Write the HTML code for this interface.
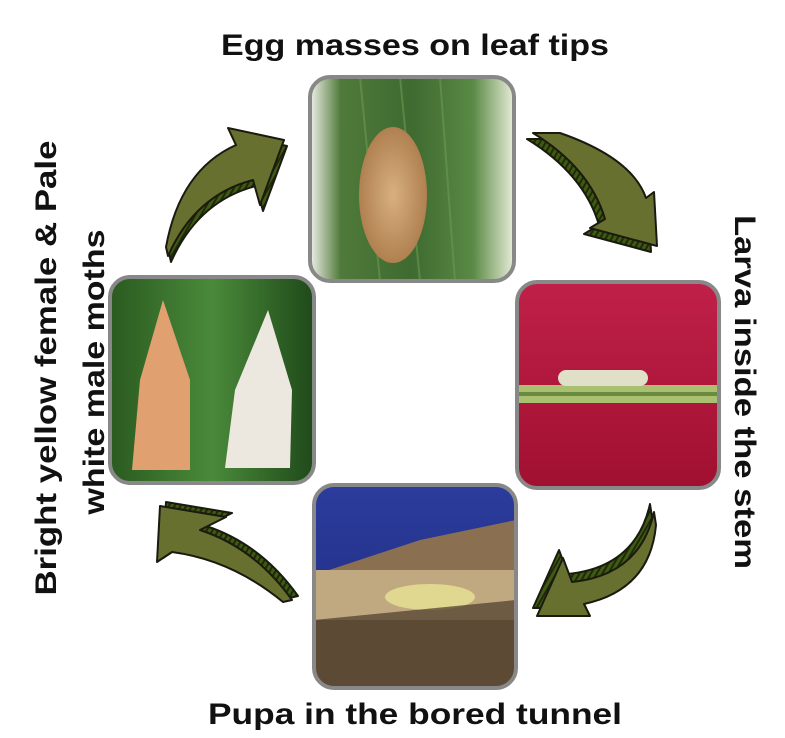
<!DOCTYPE html>
<html><head><style>
html,body{margin:0;padding:0;background:#fff;}
svg{display:block;}
text{font-family:"Liberation Sans",sans-serif;font-size:30px;fill:#111;font-weight:bold;}
</style></head><body>
<svg width="785" height="738" viewBox="0 0 785 738" xmlns="http://www.w3.org/2000/svg">
<defs>
<pattern id="hatch" width="5" height="5" patternUnits="userSpaceOnUse" patternTransform="rotate(30)">
<rect width="5" height="5" fill="#3f5a12"/><rect width="2" height="5" fill="#1e2a08"/>
</pattern>
<clipPath id="c1"><rect x="310" y="77" width="204" height="204" rx="20"/></clipPath>
<clipPath id="c2"><rect x="517" y="282" width="202" height="206" rx="20"/></clipPath>
<clipPath id="c3"><rect x="314" y="485" width="202" height="203" rx="20"/></clipPath>
<clipPath id="c4"><rect x="110" y="277" width="204" height="206" rx="20"/></clipPath>
<linearGradient id="leaf" x1="0" x2="1"><stop offset="0" stop-color="#f0f0e8"/><stop offset="0.15" stop-color="#4f7a3a"/><stop offset="0.5" stop-color="#3f6a30"/><stop offset="0.8" stop-color="#5a8a45"/><stop offset="1" stop-color="#e8ecd8"/></linearGradient>
<radialGradient id="egg"><stop offset="0" stop-color="#d8b080"/><stop offset="1" stop-color="#b08050"/></radialGradient>
<linearGradient id="red" x1="0" y1="0" x2="0" y2="1"><stop offset="0" stop-color="#c02048"/><stop offset="1" stop-color="#a01030"/></linearGradient>
<linearGradient id="blue" x1="0" y1="0" x2="0" y2="1"><stop offset="0" stop-color="#2c3c9c"/><stop offset="1" stop-color="#1c2a7c"/></linearGradient>
<linearGradient id="grass" x1="0" x2="1"><stop offset="0" stop-color="#2a5a20"/><stop offset="0.5" stop-color="#4a8a3a"/><stop offset="1" stop-color="#1f4a1a"/></linearGradient>
</defs>

<g clip-path="url(#c1)">
<rect x="310" y="77" width="204" height="204" fill="url(#leaf)"/>
<g stroke="#6a9a55" stroke-width="2" opacity="0.6"><line x1="360" y1="77" x2="380" y2="281"/><line x1="400" y1="77" x2="420" y2="281"/><line x1="440" y1="77" x2="455" y2="281"/></g>
<ellipse cx="393" cy="195" rx="34" ry="68" fill="url(#egg)"/>
</g>
<rect x="310" y="77" width="204" height="204" rx="20" fill="none" stroke="#888" stroke-width="4"/>

<g clip-path="url(#c2)">
<rect x="517" y="282" width="202" height="206" fill="url(#red)"/>
<rect x="517" y="385" width="202" height="18" fill="#a8c070"/>
<rect x="517" y="392" width="202" height="4" fill="#6a8a40"/>
<rect x="558" y="370" width="90" height="16" rx="8" fill="#e0e0c8"/>
</g>
<rect x="517" y="282" width="202" height="206" rx="20" fill="none" stroke="#888" stroke-width="4"/>

<g clip-path="url(#c3)">
<rect x="314" y="485" width="202" height="203" fill="url(#blue)"/>
<polygon points="314,575 420,540 516,520 516,688 314,688" fill="#8a7050"/>
<rect x="314" y="570" width="202" height="50" fill="#c0a880"/>
<ellipse cx="430" cy="597" rx="45" ry="13" fill="#e0d890"/>
<polygon points="314,620 516,600 516,688 314,688" fill="#4a3a2a" opacity="0.7"/>
</g>
<rect x="314" y="485" width="202" height="203" rx="20" fill="none" stroke="#888" stroke-width="4"/>

<g clip-path="url(#c4)">
<rect x="110" y="277" width="204" height="206" fill="url(#grass)"/>
<polygon points="163,300 140,380 132,470 190,470 190,380" fill="#e0a070"/>
<polygon points="268,310 235,390 225,468 290,468 292,390" fill="#ece8e0"/>
</g>
<rect x="110" y="277" width="204" height="206" rx="20" fill="none" stroke="#888" stroke-width="4"/>

<!-- arrows -->
<g stroke="#1a1a10" stroke-width="2" stroke-linejoin="round">
<!-- top-left -->
<path transform="translate(3,6)" d="M166,247 Q180,170 236,145 L228,128 L284,140 L260,205 L253,180 Q195,195 168,256 Z" fill="url(#hatch)"/>
<path d="M166,247 Q180,170 236,145 L228,128 L284,140 L260,205 L253,180 Q195,195 168,256 Z" fill="#687030"/>
<!-- top-right -->
<path transform="translate(-6,6)" d="M533,133 L560,133 Q632,158 646,198 L654,192 L657,246 L590,228 L605,219 Q590,168 533,133 Z" fill="url(#hatch)"/>
<path d="M533,133 L560,133 Q632,158 646,198 L654,192 L657,246 L590,228 L605,219 Q590,168 533,133 Z" fill="#687030"/>
<!-- bottom-right -->
<path transform="translate(-4,-8)" d="M654,512 Q640,575 572,582 L563,558 L537,616 L590,616 L584,604 Q650,590 656,525 Z" fill="url(#hatch)"/>
<path d="M654,512 Q640,575 572,582 L563,558 L537,616 L590,616 L584,604 Q650,590 656,525 Z" fill="#687030"/>
<!-- bottom-left -->
<path transform="translate(6,-4)" d="M160,506 L157,562 L172,552 Q232,560 283,602 L292,600 Q255,548 200,530 L226,517 Z" fill="url(#hatch)"/>
<path d="M160,506 L157,562 L172,552 Q232,560 283,602 L292,600 Q255,548 200,530 L226,517 Z" fill="#687030"/>
</g>

<text x="415" y="55" text-anchor="middle" textLength="388" lengthAdjust="spacingAndGlyphs">Egg masses on leaf tips</text>
<text x="415" y="724" text-anchor="middle" textLength="414" lengthAdjust="spacingAndGlyphs">Pupa in the bored tunnel</text>
<text transform="translate(735,392) rotate(90)" text-anchor="middle" textLength="354" lengthAdjust="spacingAndGlyphs">Larva inside the stem</text>
<text transform="translate(56,368) rotate(-90)" text-anchor="middle" textLength="455" lengthAdjust="spacingAndGlyphs">Bright yellow female &amp; Pale</text>
<text transform="translate(104,372) rotate(-90)" text-anchor="middle" textLength="285" lengthAdjust="spacingAndGlyphs">white male moths</text>
</svg>
</body></html>
